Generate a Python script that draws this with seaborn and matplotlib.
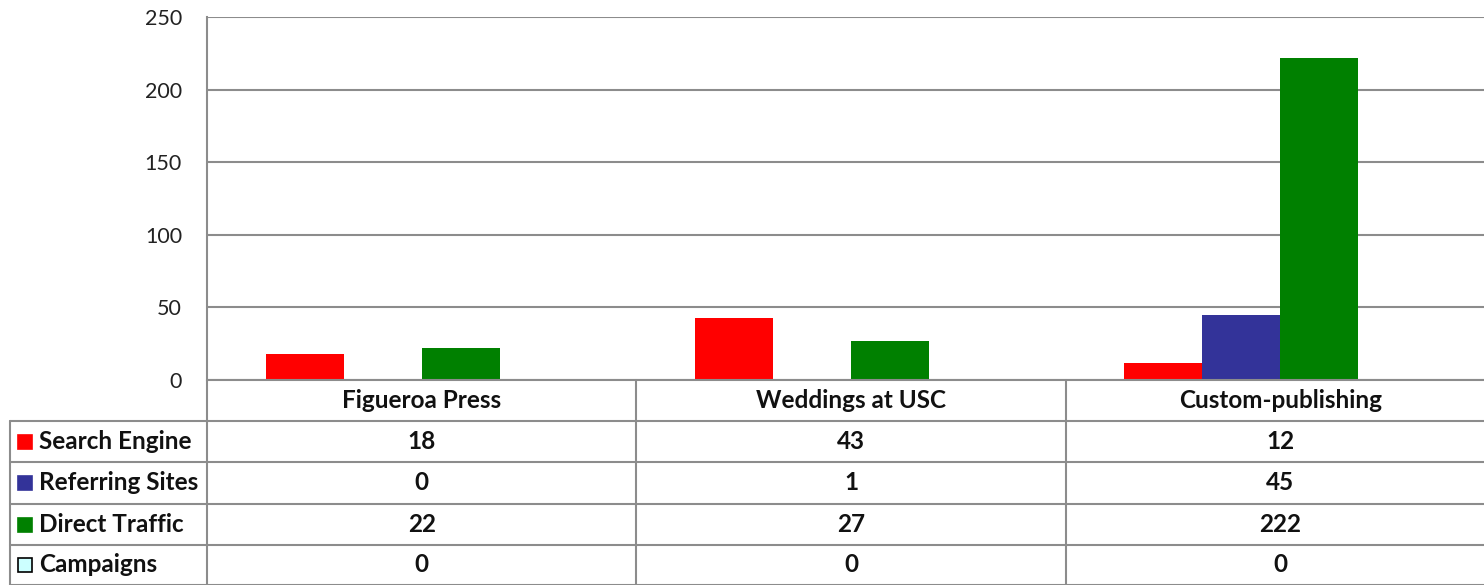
import matplotlib
matplotlib.use("Agg")
import matplotlib.pyplot as plt
import matplotlib.transforms as mtransforms
import pandas as pd
import seaborn as sns

SITES = ["Figueroa Press", "Weddings at USC", "Custom-publishing"]
SOURCES = ["Search Engine", "Referring Sites", "Direct Traffic", "Campaigns"]
search_engine = [18, 43, 12]
referring_sites = [0, 1, 45]
direct_traffic = [22, 27, 222]
campaigns = [0, 0, 0]
COLORS = ["#ff0000", "#333399", "#008000", "#ccffff"]
Y_TICKS = [0, 50, 100, 150, 200, 250]

W, H = 1484, 585
GRID = "#8c8c8c"

rows = []
for src, vals in zip(SOURCES, [search_engine, referring_sites, direct_traffic, campaigns]):
    for site, v in zip(SITES, vals):
        rows.append({"site": site, "source": src, "visits": v})
df = pd.DataFrame(rows)

sns.set_style("white")
plt.rcParams["font.family"] = ["Lato", "DejaVu Sans"]

fig = plt.figure(figsize=(W / 100, H / 100), dpi=100)
# axes runs a bit past the right edge, like the cropped original
ax = fig.add_axes([207 / W, (H - 380) / H, (1495 - 207) / W, (380 - 17) / H])

sns.barplot(data=df, x="site", y="visits", hue="source", hue_order=SOURCES,
            palette=COLORS, saturation=1, width=0.726, linewidth=0,
            legend=False, ax=ax)

ax.set_xlim(-0.5, len(SITES) - 0.5)
ax.set_ylim(0, 250)
ax.set_yticks(Y_TICKS)
ax.set_yticklabels([str(t) for t in Y_TICKS], fontsize=15.5, color="#222222")
ax.tick_params(axis="y", length=0, pad=18)
ax.set_xticks([])
ax.set_xlabel("")
ax.set_ylabel("")
for t in Y_TICKS:
    ax.axhline(t, color=GRID, lw=1.5, zorder=0.5)
for s in ["top", "right", "bottom"]:
    ax.spines[s].set_visible(False)
ax.spines["left"].set_color(GRID)
ax.spines["left"].set_linewidth(1.5)

# data table under the chart
blend = mtransforms.blended_transform_factory(ax.transData, fig.transFigure)
fy = lambda y: 1 - y / H
fx = lambda x: x / W

row_edges = [380, 421, 462, 504, 545, 585]
n = len(SITES)
# horizontal lines
for i, y in enumerate(row_edges):
    x0 = 10 if i >= 1 else 207
    fig.add_artist(plt.Line2D([fx(x0), 1], [fy(y), fy(y)], color=GRID, lw=1.5))
# vertical lines
fig.add_artist(plt.Line2D([fx(10), fx(10)], [fy(421), fy(585)], color=GRID, lw=1.5))
fig.add_artist(plt.Line2D([fx(207), fx(207)], [fy(380), fy(585)], color=GRID, lw=1.5))
for i in range(1, n):
    ax.plot([i - 0.5, i - 0.5], [fy(380), fy(585)], transform=blend,
            color=GRID, lw=1.5, clip_on=False)

TXT = 17.5
# header
for i, site in enumerate(SITES):
    ax.text(i, fy(401), site, transform=blend, ha="center", va="center",
            fontsize=TXT, fontweight="bold", color="#111111")

# rows
table_vals = [search_engine, referring_sites, direct_traffic, campaigns]
for r, (src, vals, col) in enumerate(zip(SOURCES, table_vals, COLORS)):
    yc = (row_edges[r + 1] + row_edges[r + 2]) / 2
    edge = "black" if src == "Campaigns" else col
    fig.add_artist(plt.Rectangle((fx(18), fy(yc + 7)), 14 / W, 14 / H,
                                 facecolor=col, edgecolor=edge, lw=1.2))
    fig.text(fx(39), fy(yc), src, ha="left", va="center",
             fontsize=TXT, fontweight="bold", color="#111111")
    for i, v in enumerate(vals):
        ax.text(i, fy(yc), str(v), transform=blend, ha="center", va="center",
                fontsize=TXT, fontweight="bold", color="#111111")

fig.savefig("out.png", dpi=100)
